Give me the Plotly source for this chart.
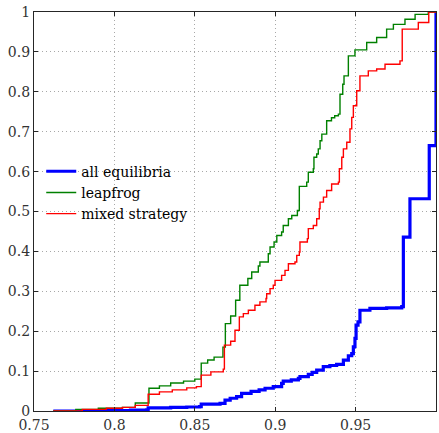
import plotly.graph_objects as go

# Empirical CDFs: x = step location, y = cumulative share after the step
leapfrog_x = [0.762, 0.776, 0.790, 0.805, 0.813, 0.8215, 0.828, 0.835, 0.843, 0.850,
              0.854, 0.858, 0.862, 0.8675, 0.869, 0.8723, 0.8754, 0.878, 0.883, 0.8854,
              0.8895, 0.8905, 0.8957, 0.8968, 0.8993, 0.901, 0.904, 0.905, 0.9082, 0.9103,
              0.9138, 0.915, 0.9196, 0.9206, 0.9237, 0.9241, 0.9258, 0.9268, 0.9279, 0.929,
              0.932, 0.935, 0.937, 0.9393, 0.9403, 0.942, 0.9428, 0.9455, 0.9496, 0.9569,
              0.9631, 0.9693, 0.9735, 0.9807, 0.987, 0.9952, 1.0]
leapfrog_y = [0.0, 0.004, 0.007, 0.009, 0.02, 0.057, 0.063, 0.070, 0.075, 0.080,
              0.12, 0.128, 0.135, 0.16, 0.219, 0.238, 0.2775, 0.315, 0.332, 0.3485,
              0.3635, 0.3735, 0.394, 0.411, 0.4235, 0.44, 0.4485, 0.465, 0.482, 0.49,
              0.5025, 0.563, 0.5735, 0.5985, 0.607, 0.636, 0.644, 0.657, 0.6775, 0.694,
              0.7275, 0.735, 0.74, 0.744, 0.794, 0.819, 0.84, 0.89, 0.905, 0.9235,
              0.936, 0.957, 0.969, 0.982, 0.994, 1.0, 1.0]

mixed_x = [0.762, 0.780, 0.795, 0.805, 0.813, 0.821, 0.828, 0.836, 0.845, 0.851,
           0.854, 0.860, 0.8677, 0.8684, 0.8723, 0.875, 0.8777, 0.8802, 0.8833, 0.8874,
           0.8905, 0.8943, 0.8947, 0.8968, 0.8988, 0.8999, 0.904, 0.9061, 0.9082, 0.9123,
           0.9134, 0.915, 0.9154, 0.92, 0.9206, 0.9237, 0.9258, 0.9274, 0.9279, 0.93,
           0.932, 0.9351, 0.9393, 0.9399, 0.9414, 0.9424, 0.9445, 0.9465, 0.9476, 0.9486,
           0.9507, 0.9527, 0.9579, 0.9631, 0.9683, 0.9776, 0.979, 0.989, 0.9955, 1.0]
mixed_y = [0.0, 0.004, 0.007, 0.009, 0.014, 0.042, 0.048, 0.053, 0.058, 0.061,
           0.09, 0.098, 0.105, 0.165, 0.175, 0.2025, 0.236, 0.244, 0.2525, 0.265,
           0.2735, 0.282, 0.294, 0.3068, 0.315, 0.3275, 0.34, 0.3525, 0.369, 0.3735,
           0.39, 0.3985, 0.4235, 0.432, 0.457, 0.465, 0.482, 0.507, 0.5235, 0.536,
           0.5525, 0.569, 0.5735, 0.607, 0.636, 0.657, 0.6735, 0.707, 0.736, 0.765,
           0.8025, 0.84, 0.8525, 0.857, 0.869, 0.8775, 0.957, 0.9735, 1.0, 1.0]

all_eq_x = [0.762, 0.790, 0.810, 0.820, 0.821, 0.835, 0.845, 0.853, 0.854, 0.8657,
            0.8688, 0.872, 0.876, 0.8791, 0.885, 0.890, 0.8937, 0.8988, 0.904, 0.905,
            0.910, 0.9144, 0.9154, 0.9206, 0.923, 0.9258, 0.9299, 0.934, 0.9382, 0.9424,
            0.9455, 0.9476, 0.9486, 0.9496, 0.9503, 0.9515, 0.9527, 0.9589, 0.9693, 0.9787,
            0.9797, 0.9838, 0.9958, 1.0]
all_eq_y = [0.0, 0.001, 0.002, 0.003, 0.008, 0.009, 0.010, 0.011, 0.017, 0.019,
            0.0275, 0.032, 0.036, 0.044, 0.049, 0.053, 0.057, 0.061, 0.069, 0.075,
            0.078, 0.082, 0.086, 0.092, 0.097, 0.1025, 0.111, 0.114, 0.117, 0.1275,
            0.1385, 0.144, 0.161, 0.182, 0.215, 0.2235, 0.2525, 0.257, 0.2585, 0.2615,
            0.436, 0.532, 0.665, 1.0]

x_ticks = [0.75, 0.8, 0.85, 0.9, 0.95, 1.0]
x_tick_labels = ["0.75", "0.8", "0.85", "0.9", "0.95", "1"]
y_ticks = [0, 0.1, 0.2, 0.3, 0.4, 0.5, 0.6, 0.7, 0.8, 0.9, 1.0]
y_tick_labels = ["0", "0.1", "0.2", "0.3", "0.4", "0.5", "0.6", "0.7", "0.8", "0.9", "1"]

FONT = "DejaVu Serif"

fig = go.Figure()
fig.add_trace(go.Scatter(x=all_eq_x, y=all_eq_y, mode="lines", name="all equilibria",
                         line=dict(color="#0000ff", width=3.2, shape="hv")))
fig.add_trace(go.Scatter(x=leapfrog_x, y=leapfrog_y, mode="lines", name="leapfrog",
                         line=dict(color="#008000", width=1.4, shape="hv")))
fig.add_trace(go.Scatter(x=mixed_x, y=mixed_y, mode="lines", name="mixed strategy",
                         line=dict(color="#ff0000", width=1.4, shape="hv")))

axis_common = dict(
    showline=True, linecolor="#262626", linewidth=1.2, mirror="ticks",
    ticks="inside", ticklen=4, tickcolor="#262626", tickwidth=1,
    showgrid=True, gridcolor="#a8a8a8", gridwidth=1, griddash="1px,3px",
    zeroline=False, automargin=False,
    tickfont=dict(family=FONT, size=14, color="#333333"),
)

fig.update_xaxes(range=[0.75, 1.0], tickvals=x_ticks, ticktext=x_tick_labels,
                 ticklabelstandoff=1, **axis_common)
fig.update_yaxes(range=[0, 1.0], tickvals=y_ticks, ticktext=y_tick_labels, **axis_common)

fig.update_layout(
    width=439, height=433,
    margin=dict(l=34, r=3, t=12, b=22),
    paper_bgcolor="white", plot_bgcolor="white",
    font=dict(family=FONT, size=14, color="#000000"),
    legend=dict(x=0.018, y=0.64, xanchor="left", yanchor="top",
                bgcolor="rgba(0,0,0,0)", borderwidth=0,
                font=dict(family=FONT, size=14, color="#000000"),
                tracegroupgap=0, itemwidth=30),
    showlegend=True,
)

fig.write_html("out.html")
